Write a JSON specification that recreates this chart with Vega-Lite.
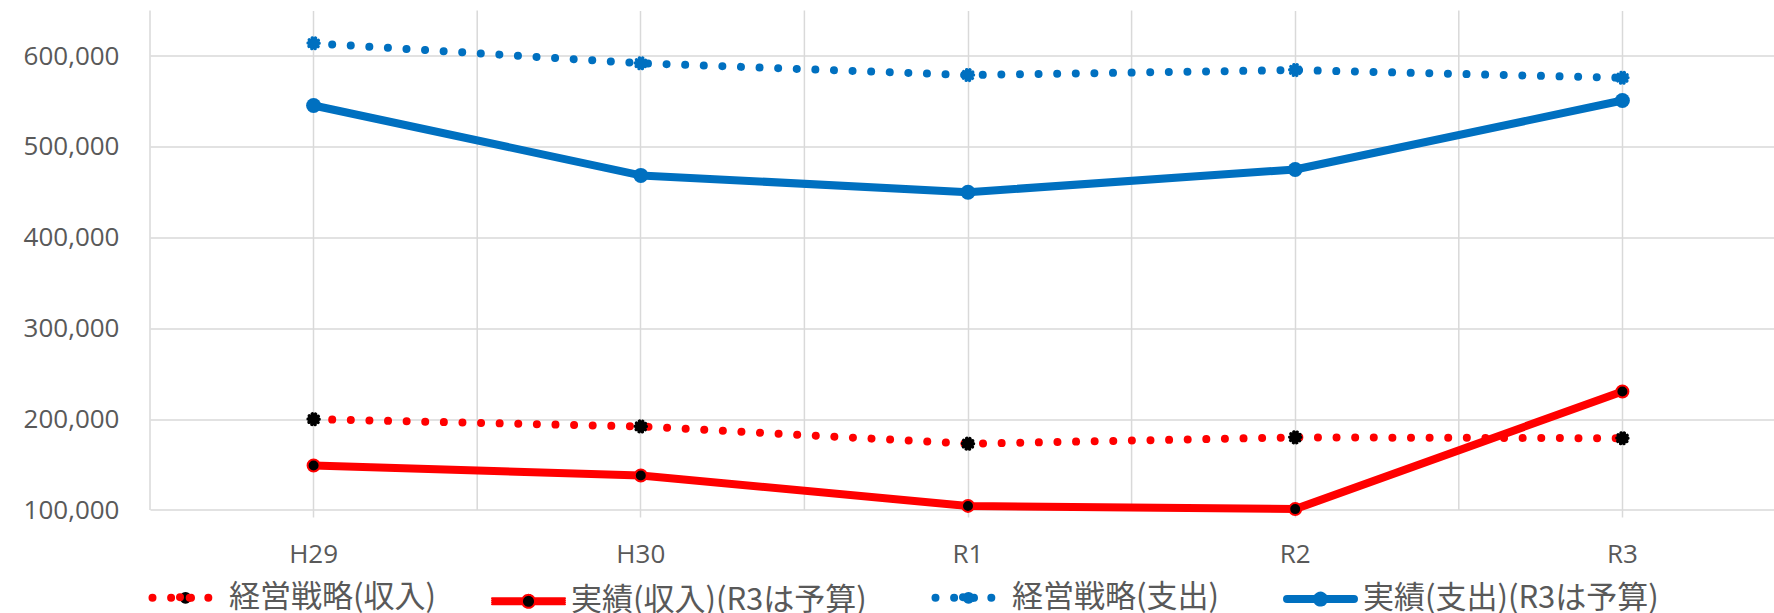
{
  "$schema": "https://vega.github.io/schema/vega-lite/v6.json",
  "autosize": {"type": "none"},
  "width": 1624,
  "height": 499.4,
  "padding": {"left": 150, "top": 10.6, "right": 0, "bottom": 103},
  "background": "white",
  "config": {"view": {"stroke": null}},
  "data": {
    "values": [
      {"series": "経営戦略(収入)", "year": "H29", "value": 200000},
      {"series": "経営戦略(収入)", "year": "H30", "value": 192000},
      {"series": "経営戦略(収入)", "year": "R1", "value": 173000},
      {"series": "経営戦略(収入)", "year": "R2", "value": 180000},
      {"series": "経営戦略(収入)", "year": "R3", "value": 179000},
      {"series": "実績(収入)(R3は予算)", "year": "H29", "value": 149000},
      {"series": "実績(収入)(R3は予算)", "year": "H30", "value": 138000},
      {"series": "実績(収入)(R3は予算)", "year": "R1", "value": 104500},
      {"series": "実績(収入)(R3は予算)", "year": "R2", "value": 101000},
      {"series": "実績(収入)(R3は予算)", "year": "R3", "value": 230500},
      {"series": "経営戦略(支出)", "year": "H29", "value": 614000},
      {"series": "経営戦略(支出)", "year": "H30", "value": 592000},
      {"series": "経営戦略(支出)", "year": "R1", "value": 579000},
      {"series": "経営戦略(支出)", "year": "R2", "value": 584500},
      {"series": "経営戦略(支出)", "year": "R3", "value": 576000},
      {"series": "実績(支出)(R3は予算)", "year": "H29", "value": 545500},
      {"series": "実績(支出)(R3は予算)", "year": "H30", "value": 468500},
      {"series": "実績(支出)(R3は予算)", "year": "R1", "value": 450000},
      {"series": "実績(支出)(R3は予算)", "year": "R2", "value": 475000},
      {"series": "実績(支出)(R3は予算)", "year": "R3", "value": 551000}
    ]
  },
  "layer": [
    {
      "transform": [{"filter": "datum.series === '経営戦略(収入)'"}],
      "mark": {"type": "rule", "color": "#d9d9d9", "strokeWidth": 1.5},
      "encoding": {
        "x": {"field": "year", "type": "ordinal", "bandPosition": 0,
          "scale": {"type": "band", "domain": ["H29", "H30", "R1", "R2", "R3"], "range": [0, 1636], "paddingInner": 0, "paddingOuter": 0},
          "axis": {"title": null, "grid": true, "gridColor": "#d9d9d9", "gridWidth": 1.5, "domain": false, "ticks": true, "tickColor": "#d9d9d9", "tickWidth": 1.5, "tickSize": 7, "labelFont": "Open Sans", "labelFontSize": 26, "labelColor": "#595959", "labelPadding": 24, "labelAngle": 0}}
      }
    },
    {
      "transform": [{"filter": "datum.series === '経営戦略(収入)' || datum.series === '経営戦略(支出)'"}],
      "mark": {"type": "line", "strokeWidth": 8, "strokeDash": [0.01, 18.6], "strokeCap": "round", "strokeJoin": "round"},
      "encoding": {
        "x": {"field": "year", "type": "ordinal"},
        "y": {"field": "value", "type": "quantitative",
          "scale": {"domain": [100000, 650000], "nice": false, "zero": false},
          "axis": {"title": null, "values": [100000, 200000, 300000, 400000, 500000, 600000], "labelExpr": "format(datum.value, ',')", "grid": true, "gridColor": "#d9d9d9", "gridWidth": 1.5, "domain": false, "ticks": false, "tickSize": 0, "labelFont": "Open Sans", "labelFontSize": 26, "labelColor": "#595959", "labelPadding": 31}},
        "stroke": {"field": "series", "type": "nominal",
          "scale": {"domain": ["経営戦略(収入)", "実績(収入)(R3は予算)", "経営戦略(支出)", "実績(支出)(R3は予算)"], "range": ["#ff0000", "#ff0000", "#0070c0", "#0070c0"]},
          "legend": {"title": null, "orient": "none", "legendX": 21, "legendY": 571.5, "direction": "horizontal", "columns": 4, "columnPadding": 52, "padding": 0, "symbolSize": 5625, "labelOffset": 27, "labelFont": "Noto Sans CJK JP", "labelFontSize": 31, "labelColor": "#595959", "labelLimit": 0,
            "encode": {"symbols": {"update": {
              "shape": {"signal": "(datum.value === '経営戦略(収入)' || datum.value === '経営戦略(支出)') ? 'M-0.907,0H0.587M0.12,0A0.147,0.147,0,1,1,-0.173,0A0.147,0.147,0,1,1,0.12,0Z' : (datum.value === '実績(収入)(R3は予算)' ? 'M-0.973,-0.08H-0.154M0.154,-0.08H0.973M-0.973,-0.027H-0.171M0.171,-0.027H0.973M-0.973,0.027H-0.171M0.171,0.027H0.973M-0.973,0.08H-0.154M0.154,0.08H0.973M0.173,0A0.173,0.173,0,1,1,-0.173,0A0.173,0.173,0,1,1,0.173,0Z' : 'M-0.893,0H0.893M0.093,0A0.093,0.093,0,1,1,-0.093,0A0.093,0.093,0,1,1,0.093,0Z')"},
              "size": {"value": 5625},
              "fill": {"signal": "(datum.value === '経営戦略(収入)' || datum.value === '実績(収入)(R3は予算)') ? 'black' : '#0070c0'"},
              "fillOpacity": {"value": 1},
              "strokeOpacity": {"value": 1},
              "opacity": {"value": 1},
              "strokeWidth": {"signal": "(datum.value === '経営戦略(収入)' || datum.value === '経営戦略(支出)') ? 8 : (datum.value === '実績(収入)(R3は予算)' ? 2 : 8)"},
              "strokeDash": {"signal": "(datum.value === '経営戦略(収入)' || datum.value === '経営戦略(支出)') ? [0.01, 18.6] : [1, 0]"},
              "strokeCap": {"value": "round"}
            }}}
          }}
      }
    },
    {
      "transform": [{"filter": "datum.series === '実績(収入)(R3は予算)' || datum.series === '実績(支出)(R3は予算)'"}],
      "mark": {"type": "line", "strokeWidth": 8, "strokeCap": "round", "strokeJoin": "round"},
      "encoding": {
        "x": {"field": "year", "type": "ordinal"},
        "y": {"field": "value", "type": "quantitative"},
        "stroke": {"field": "series", "type": "nominal"}
      }
    },
    {
      "transform": [{"filter": "datum.series === '経営戦略(収入)' || datum.series === '経営戦略(支出)'"}],
      "mark": {"type": "point", "shape": "circle", "filled": true, "size": 121, "strokeWidth": 3.5, "strokeDash": [0.01, 3.4], "strokeCap": "round", "opacity": 1},
      "encoding": {
        "x": {"field": "year", "type": "ordinal"},
        "y": {"field": "value", "type": "quantitative"},
        "fill": {"condition": {"test": "datum.series === '経営戦略(収入)'", "value": "black"}, "value": "#0070c0"},
        "stroke": {"condition": {"test": "datum.series === '経営戦略(収入)'", "value": "black"}, "value": "#0070c0"}
      }
    },
    {
      "transform": [{"filter": "datum.series === '実績(収入)(R3は予算)' || datum.series === '実績(支出)(R3は予算)'"}],
      "mark": {"type": "point", "shape": "circle", "filled": true, "opacity": 1},
      "encoding": {
        "x": {"field": "year", "type": "ordinal"},
        "y": {"field": "value", "type": "quantitative"},
        "fill": {"condition": {"test": "datum.series === '実績(収入)(R3は予算)'", "value": "black"}, "value": "#0070c0"},
        "stroke": {"condition": {"test": "datum.series === '実績(収入)(R3は予算)'", "value": "#ff0000"}, "value": "#0070c0"},
        "strokeWidth": {"condition": {"test": "datum.series === '実績(収入)(R3は予算)'", "value": 2}, "value": 0},
        "size": {"condition": {"test": "datum.series === '実績(収入)(R3は予算)'", "value": 144}, "value": 225}
      }
    }
  ]
}
